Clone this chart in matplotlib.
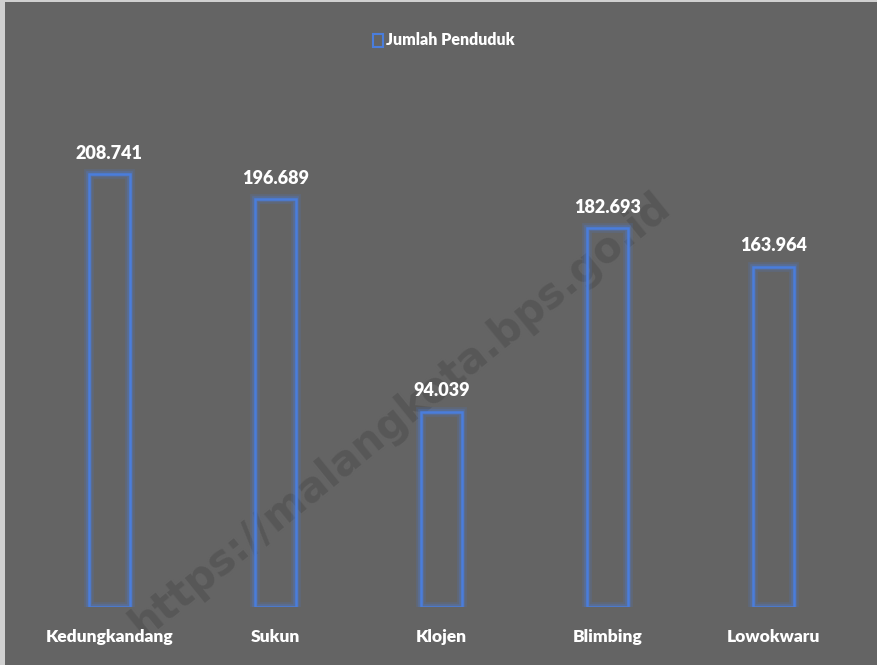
import matplotlib.pyplot as plt
from matplotlib.patches import Rectangle

# data
kecamatan = ['Kedungkandang', 'Sukun', 'Klojen', 'Blimbing', 'Lowokwaru']
penduduk = [208741, 196689, 94039, 182693, 163964]
label_nilai = ['208.741', '196.689', '94.039', '182.693', '163.964']

bg = '#646464'
biru = '#4a7ddc'
plt.rcParams['font.family'] = ['Lato', 'DejaVu Sans']

fig = plt.figure(figsize=(8.78, 6.65), dpi=100, facecolor=bg)
ax = fig.add_axes([0, 58 / 665, 1, 607 / 665])
ax.set_facecolor('none')
ax.set_zorder(2)

x = list(range(len(kecamatan)))
# efek glow
ax.bar(x, penduduk, width=0.25, facecolor='none', edgecolor=biru, linewidth=7, alpha=0.18)
ax.bar(x, penduduk, width=0.25, facecolor='none', edgecolor=biru, linewidth=4, alpha=0.3)
ax.bar(x, penduduk, width=0.25, facecolor='none', edgecolor=biru, linewidth=1.8)

for xi, v, lab in zip(x, penduduk, label_nilai):
    ax.annotate(lab, (xi, v), xytext=(0, 9), textcoords='offset points',
                ha='center', va='bottom', color='white', fontsize=13, fontweight='heavy')
    ax.text(xi, -14465, kecamatan[xi], ha='center', va='center', color='white',
            fontsize=12.5, fontweight='heavy', clip_on=False)

ax.set_xlim(-109.5 / 166, (878 - 109.5) / 166)
ax.set_ylim(0, 292700)
ax.axis('off')

# legenda
fig.patches.append(Rectangle((373 / 878, 1 - 47 / 665), 10 / 878, 13 / 665,
                             transform=fig.transFigure, facecolor='none',
                             edgecolor=biru, linewidth=1.5))
fig.text(386 / 878, 1 - 40 / 665, 'Jumlah Penduduk', color='white', fontsize=11.5,
         fontweight='heavy', ha='left', va='center')

# watermark
fig.text(400 / 878, 1 - 415 / 665, 'https://malangkota.bps.go.id', color='#575757',
         fontsize=30, fontweight='bold', family='DejaVu Sans', rotation=39,
         ha='center', va='center', zorder=0)

# garis tepi terang
fig.patches.append(Rectangle((0, 0), 5 / 878, 1, transform=fig.transFigure,
                             facecolor='#d0d0d0', edgecolor='none'))
fig.patches.append(Rectangle((0, 1 - 2 / 665), 1, 2 / 665, transform=fig.transFigure,
                             facecolor='#d0d0d0', edgecolor='none'))

fig.savefig('out.png', dpi=100, facecolor=bg)
